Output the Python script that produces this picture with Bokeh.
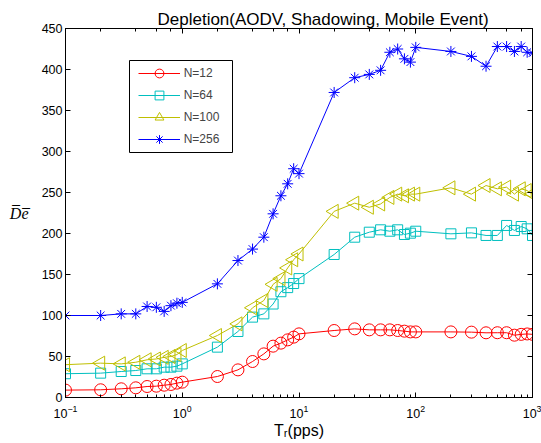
import numpy as np
from bokeh.plotting import figure
from bokeh.models import (LogAxis, LinearAxis, Range1d, Legend, LegendItem,
                          FixedTicker, LogTicker, BoxAnnotation)
from bokeh.embed import file_html
from bokeh.resources import INLINE

# ---- data ----
tr = [0.1, 0.2, 0.3, 0.4, 0.5, 0.6, 0.7, 0.8, 0.9,
      1, 2, 3, 4, 5, 6, 7, 8, 9,
      10, 20, 30, 40, 50, 60, 70, 80, 90,
      100, 200, 300, 400, 500, 600, 700, 800, 900, 1000]

n12 = [9, 9.4, 10.6, 11.8, 13.4, 13.8, 15, 15.9, 17.5,
       18.7, 25.6, 33.7, 43.9, 53.2, 62.6, 66.3, 70.3, 73.6,
       77.6, 81.7, 83.7, 82.5, 82.5, 82.5, 81.7, 80.9, 80,
       80, 80, 79.7, 78.9, 79, 79, 76, 77, 77.5, 77]

n64 = [29, 29.7, 31.7, 32.9, 35, 35, 37, 37, 38.2,
       41, 61.4, 80.5, 98, 102, 114, 129, 134, 139,
       145, 174.4, 195.5, 201.6, 204.5, 202.8, 204.5, 198.8, 200.4,
       202.8, 199.6, 200.8, 197.6, 197.6, 209.8, 203.7, 208.5, 205.7, 197.6]

n100 = [40, 41.9, 41, 43, 46, 47, 49, 50, 52.4,
        57.3, 75.6, 89.8, 109.4, 118.3, 138, 145, 158, 168,
        175, 227, 237, 232, 236, 244, 248, 246, 248,
        248, 255.7, 248, 258.5, 254.5, 256.5, 248, 254.5, 252.4, 248]

n256 = [100, 100, 102, 102, 111, 110, 105, 112, 115,
        116, 138.6, 167, 181, 195.5, 224, 246, 260.6, 279,
        273, 372, 390, 394, 399, 421, 425, 413, 409,
        427, 422, 416, 404, 428, 428, 422, 428, 421, 420]

series_labels = ["N=12", "N=64", "N=100", "N=256"]
y_ticks = [0, 50, 100, 150, 200, 250, 300, 350, 400, 450]

title_text = "Depletion(AODV, Shadowing, Mobile Event)"
x_label = "T\u1d63(pps)"
y_label = "D\u0305e\u0305"

# ---- figure ----
FONT = "Liberation Sans"
p = figure(width=541, height=443, x_axis_type="log",
           x_range=Range1d(0.1, 1000), y_range=Range1d(0, 450),
           output_backend="svg", toolbar_location=None,
           min_border_left=65, min_border_right=9,
           min_border_top=28, min_border_bottom=46)
p.background_fill_color = "white"
p.border_fill_color = "white"
p.outline_line_color = "black"
p.xgrid.visible = False
p.ygrid.visible = False

p.title.text = title_text
p.title.text_font = FONT
p.title.text_font_size = "17px"
p.title.text_font_style = "normal"
p.title.text_color = "black"
p.title.align = "left"
p.title.offset = 92
p.title.standoff = 0

def style_axis(ax, labels=True):
    ax.axis_line_color = "black"
    ax.major_tick_in = 5
    ax.major_tick_out = 0
    ax.minor_tick_in = 3
    ax.minor_tick_out = 0
    ax.major_tick_line_color = "black"
    ax.minor_tick_line_color = "black"
    ax.major_label_text_font = FONT
    ax.major_label_text_color = "black"
    ax.major_label_text_font_size = "12.5px"
    if not labels:
        ax.major_label_text_font_size = "5px"
        ax.major_label_text_alpha = 0
        ax.major_label_standoff = 0

xa = p.xaxis[0]
style_axis(xa)
xa.major_label_standoff = 7
xa.axis_label = x_label
xa.axis_label_text_font = FONT
xa.axis_label_text_font_size = "16px"
xa.axis_label_text_font_style = "normal"
xa.axis_label_text_color = "black"
xa.axis_label_standoff = 1

ya = p.yaxis[0]
style_axis(ya)
ya.major_label_standoff = 3
ya.ticker = FixedTicker(ticks=y_ticks, minor_ticks=[])

# label-only axis on the left, its bounds centre the label where the reference has it
lab_ax = LinearAxis(ticker=FixedTicker(ticks=[], minor_ticks=[]), bounds=(86, 450))
lab_ax.axis_line_color = None
lab_ax.major_tick_line_color = None
lab_ax.minor_tick_line_color = None
lab_ax.major_label_standoff = 0
lab_ax.axis_label = y_label
lab_ax.axis_label_text_font = "Liberation Serif"
lab_ax.axis_label_text_font_size = "16px"
lab_ax.axis_label_text_font_style = "italic"
lab_ax.axis_label_text_color = "black"
lab_ax.axis_label_standoff = 10
try:
    lab_ax.axis_label_orientation = "horizontal"
except Exception:
    pass
p.add_layout(lab_ax, "left")

top_ax = LogAxis(ticker=LogTicker())
style_axis(top_ax, labels=False)
p.add_layout(top_ax, "above")
right_ax = LinearAxis(ticker=FixedTicker(ticks=y_ticks, minor_ticks=[]))
style_axis(right_ax, labels=False)
p.add_layout(right_ax, "right")

# ---- series ----
specs = [
    (n12, "#FF0000", "circle", 12, 0.0),
    (n64, "#00BFBF", "square", 10, 0.0),
    (n100, "#BFBF00", "triangle", 14, np.pi / 2),
    (n256, "#0000FF", "asterisk", 11, 0.0),
]
items = []
for (vals, col, mk, sz, ang), lab in zip(specs, series_labels):
    lr = p.line(tr, vals, line_color=col, line_width=1)
    sr = p.scatter(tr, vals, marker=mk, size=sz, angle=ang,
                   line_color=col, fill_color=None, line_width=1)
    items.append(LegendItem(label=lab, renderers=[lr, sr]))

# legend frame
p.add_layout(BoxAnnotation(left=64, right=167, top=337, bottom=245,
                           left_units="screen", right_units="screen",
                           top_units="screen", bottom_units="screen",
                           fill_color="white", fill_alpha=1.0,
                           line_color="black", line_width=1, line_alpha=1.0))

legend = Legend(items=items, location=(72.7, 247.3),
                glyph_width=42, glyph_height=22, label_height=22,
                spacing=0, padding=0, margin=0, label_standoff=4,
                label_text_font=FONT, label_text_font_size="12px",
                border_line_alpha=0, background_fill_alpha=0)
p.add_layout(legend)

open("out.html", "w").write(file_html(p, INLINE))
